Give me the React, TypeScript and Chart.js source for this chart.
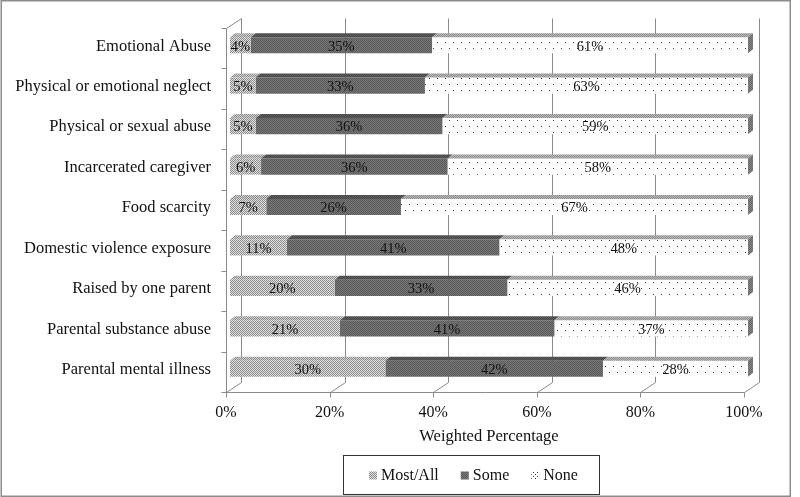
import React, { useEffect, useRef } from 'react';
import { Chart, registerables } from 'chart.js';

Chart.register(...registerables);

const categories = [
  'Emotional Abuse',
  'Physical or emotional neglect',
  'Physical or sexual abuse',
  'Incarcerated caregiver',
  'Food scarcity',
  'Domestic violence exposure',
  'Raised by one parent',
  'Parental substance abuse',
  'Parental mental illness',
];
const mostAll = [4, 5, 5, 6, 7, 11, 20, 21, 30];
const some = [35, 33, 36, 36, 26, 41, 33, 41, 42];
const none = [61, 63, 59, 58, 67, 48, 46, 37, 28];
const seriesNames = ['Most/All', 'Some', 'None'];
const xTicks = [0, 20, 40, 60, 80, 100];
const axisTitle = 'Weighted Percentage';

const FONT = "'Liberation Serif', 'Times New Roman', serif";
const DX_F = -4, DY_F = 3, DX_B = 11, DY_B = -7; // 3D wall offsets
const DEPTH_X = 5, DEPTH_Y = 4; // bar depth

function makePattern(ctx: CanvasRenderingContext2D, w: number, h: number, bg: string, fg: string, dots: number[][]) {
  const c = document.createElement('canvas');
  c.width = w; c.height = h;
  const g = c.getContext('2d')!;
  g.fillStyle = bg; g.fillRect(0, 0, w, h);
  g.fillStyle = fg;
  dots.forEach(([px, py]) => g.fillRect(px, py, 1, 1));
  return ctx.createPattern(c, 'repeat')!;
}

export default function App() {
  const ref = useRef<HTMLCanvasElement>(null);
  useEffect(() => {
    document.body.style.margin = '0';
    const canvas = ref.current!;
    const ctx = canvas.getContext('2d')!;
    const pMost = makePattern(ctx, 2, 2, '#e2e2e2', '#8a8a8a', [[0, 0], [1, 1]]);
    const pSome = makePattern(ctx, 2, 2, '#777777', '#5a5a5a', [[0, 0], [1, 1]]);
    const pNone = makePattern(ctx, 8, 12, '#ffffff', '#3a3a3a', [[1, 0], [5, 6]]);
    const pNoneLegend = makePattern(ctx, 4, 4, '#ffffff', '#3a3a3a', [[1, 0], [3, 2]]);
    const pMostTop = makePattern(ctx, 2, 2, '#d6d6d6', '#888888', [[0, 0], [1, 1]]);
    const pSomeTop = makePattern(ctx, 2, 2, '#5c5c5c', '#474747', [[0, 0], [1, 1]]);
    const pNoneTop = makePattern(ctx, 2, 2, '#bbbbbb', '#8c8c8c', [[0, 0], [1, 1]]);
    const pNoneCap = makePattern(ctx, 2, 2, '#888888', '#666666', [[0, 0], [1, 1]]);
    const fills = [pMost, pSome, pNone];
    const legendFills = [pMost, pSome, pNoneLegend];
    const tops = [pMostTop, pSomeTop, pNoneTop];

    const raw = [mostAll, some, none];
    const totals = categories.map((_, i) => mostAll[i] + some[i] + none[i]);
    const datasets = raw.map((vals, d) => ({
      label: seriesNames[d],
      data: vals.map((v, i) => (v / totals[i]) * 100),
      rawValues: vals,
      backgroundColor: fills[d],
      borderWidth: 0,
      barPercentage: 0.4,
      categoryPercentage: 1,
    }));

    const framePlugin = {
      id: 'frame3d',
      beforeDraw(chart: any) {
        const c = chart.ctx;
        c.save();
        c.fillStyle = '#ffffff';
        c.fillRect(0, 0, chart.width, chart.height);
        c.strokeStyle = '#8c8c8c';
        c.lineWidth = 1.5;
        c.strokeRect(1.25, 0.75, 789, 495.5);
        c.restore();
      },
      beforeDatasetsDraw(chart: any) {
        const { ctx: c, chartArea: a, scales } = chart;
        const xs = scales.x, ys = scales.y;
        c.save();
        c.strokeStyle = '#8a8a8a';
        c.lineWidth = 1;
        const line = (x1: number, y1: number, x2: number, y2: number) => {
          c.beginPath(); c.moveTo(x1, y1); c.lineTo(x2, y2); c.stroke();
        };
        const r = (v: number) => Math.round(v) + 0.5;
        const fTop = r(a.top + DY_F), fBot = r(a.bottom + DY_F);
        const bTop = r(a.top + DY_B), bBot = r(a.bottom + DY_B);
        xTicks.forEach((v) => {
          const px = xs.getPixelForValue(v);
          const bx = r(px + DX_B), fx = r(px + DX_F);
          line(bx, bTop, bx, bBot);
          line(fx, fBot, bx, bBot);
          line(fx, fBot, fx, fBot + 5);
        });
        line(r(xs.getPixelForValue(0) + DX_F), fBot, r(xs.getPixelForValue(100) + DX_F), fBot);
        const lf = r(a.left + DX_F), lb = r(a.left + DX_B);
        line(lf, fTop, lf, fBot);
        line(lf, fTop, lb, bTop);
        const band = Math.abs(ys.getPixelForValue(1) - ys.getPixelForValue(0));
        for (let i = 0; i <= categories.length; i++) {
          const yy = r(ys.getPixelForValue(0) - band / 2 + i * band + DY_F);
          line(lf - 5, yy, lf, yy);
        }
        c.restore();
      },
      afterDatasetsDraw(chart: any) {
        const c = chart.ctx;
        c.save();
        const nd = chart.data.datasets.length;
        chart.data.datasets.forEach((ds: any, d: number) => {
          const meta = chart.getDatasetMeta(d);
          meta.data.forEach((el: any) => {
            const { x, y, base, height } = el.getProps(['x', 'y', 'base', 'height'], true);
            const top = y - height / 2, bot = y + height / 2;
            c.fillStyle = tops[d];
            c.beginPath();
            c.moveTo(base, top); c.lineTo(x, top);
            c.lineTo(x + DEPTH_X, top - DEPTH_Y); c.lineTo(base + DEPTH_X, top - DEPTH_Y);
            c.closePath(); c.fill();
            if (d === nd - 1) {
              c.fillStyle = pNoneCap;
              c.beginPath();
              c.moveTo(x, top); c.lineTo(x + DEPTH_X, top - DEPTH_Y);
              c.lineTo(x + DEPTH_X, bot - DEPTH_Y); c.lineTo(x, bot);
              c.closePath(); c.fill();
            }
          });
        });
        c.fillStyle = '#111111';
        c.font = `14.5px ${FONT}`;
        c.textAlign = 'center';
        c.textBaseline = 'middle';
        chart.data.datasets.forEach((ds: any, d: number) => {
          const meta = chart.getDatasetMeta(d);
          meta.data.forEach((el: any, i: number) => {
            const { x, y, base } = el.getProps(['x', 'y', 'base'], true);
            c.fillText(`${ds.rawValues[i]}%`, (base + x) / 2, y + 1.5);
          });
        });
        c.restore();
      },
      afterDraw(chart: any) {
        const c = chart.ctx;
        c.save();
        const boxL = 343, boxT = 455, boxW = 256, boxH = 39;
        c.strokeStyle = '#333333';
        c.lineWidth = 1;
        c.strokeRect(boxL + 0.5, boxT + 0.5, boxW, boxH);
        c.font = `16px ${FONT}`;
        c.textBaseline = 'middle';
        c.textAlign = 'left';
        let cx = 369;
        const cy = boxT + boxH / 2 + 1;
        chart.data.datasets.forEach((ds: any, d: number) => {
          c.fillStyle = legendFills[d];
          c.fillRect(cx, cy - 4, 8, 8);
          c.fillStyle = '#111111';
          c.fillText(ds.label, cx + 12, cy);
          cx += 12 + c.measureText(ds.label).width + 22;
        });
        c.restore();
      },
    };

    const chart = new Chart(canvas, {
      type: 'bar',
      data: { labels: categories, datasets: datasets as any },
      plugins: [framePlugin],
      options: {
        animation: false,
        responsive: false,
        devicePixelRatio: 1,
        indexAxis: 'y',
        layout: { padding: { top: 25, right: 52, left: 0, bottom: 50 } },
        plugins: { legend: { display: false }, tooltip: { enabled: false } },
        scales: {
          x: {
            stacked: true,
            min: 0,
            max: 100,
            afterBuildTicks: (s: any) => { s.ticks = xTicks.map((v) => ({ value: v })); },
            afterFit: (s: any) => { s.height = 58; },
            grid: { display: false, drawTicks: false },
            border: { display: false },
            ticks: {
              padding: 14,
              labelOffset: -4,
              color: '#111111',
              font: { family: FONT, size: 16 },
              callback: (v: any) => `${v}%`,
            },
            title: {
              display: true,
              text: axisTitle,
              color: '#111111',
              font: { family: FONT, size: 16.5 },
              padding: { top: 0, bottom: 0 },
            },
          },
          y: {
            stacked: true,
            afterFit: (s: any) => { s.width = 230; },
            grid: { display: false, drawTicks: true, tickLength: 19 },
            border: { display: false },
            ticks: {
              padding: 0,
              labelOffset: 1,
              color: '#111111',
              font: { family: FONT, size: 16.5 },
            },
          },
        },
      } as any,
    });
    return () => chart.destroy();
  }, []);
  return <canvas ref={ref} width={800} height={497} style={{ display: 'block' }} />;
}
